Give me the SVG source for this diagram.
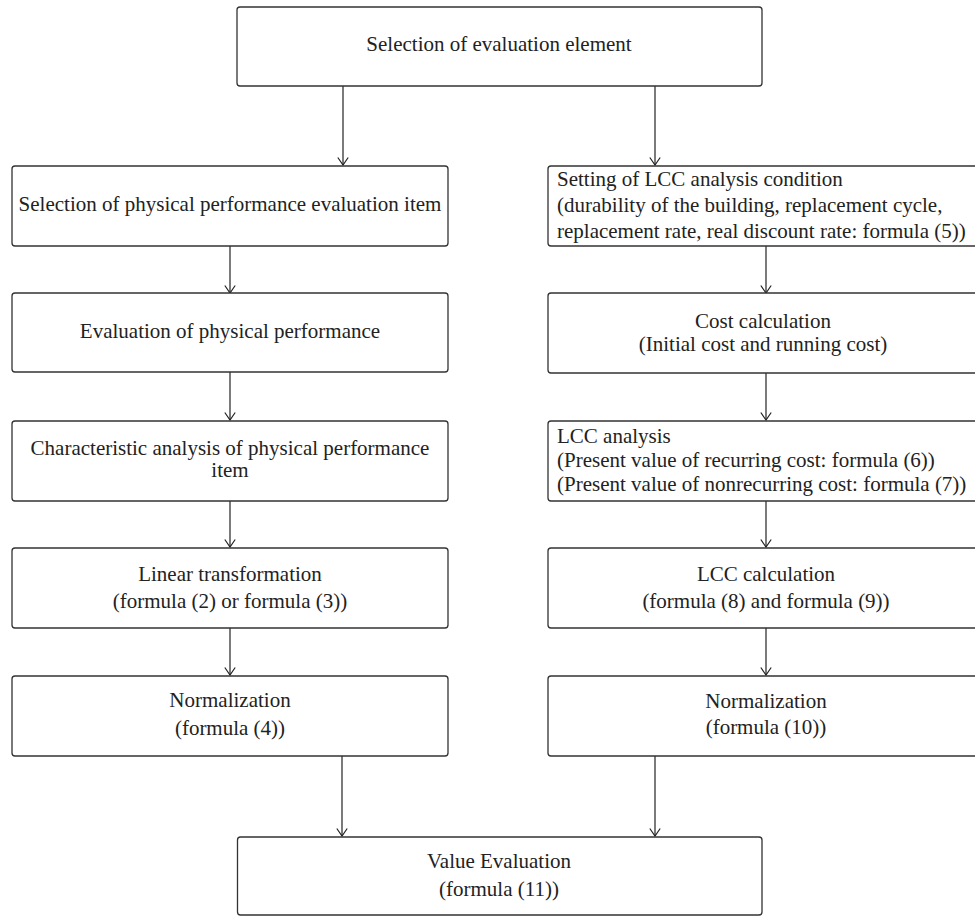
<svg xmlns="http://www.w3.org/2000/svg" width="975" height="917" viewBox="0 0 975 917">
<defs>
<marker id="ah" markerWidth="9" markerHeight="12" refX="8" refY="6" orient="auto" markerUnits="userSpaceOnUse" viewBox="0 0 9 12">
<path d="M0.5,0.8 L8,6 L0.5,11.2" fill="none" stroke="#222" stroke-width="1.2"/>
</marker>
<style>
.box{fill:#fff;stroke:#333;stroke-width:1.3}
.t{font-family:"Liberation Serif","Times New Roman",serif;font-size:21px;fill:#222}
.c{text-anchor:middle}
.ln{stroke:#222;stroke-width:1.2;fill:none;marker-end:url(#ah)}
</style>
</defs>
<rect width="975" height="917" fill="#fff"/>
<g id="connectors">
<line class="ln" x1="343" y1="86" x2="343" y2="165"/>
<line class="ln" x1="655" y1="86" x2="655" y2="165"/>
<line class="ln" x1="230" y1="246" x2="230" y2="293"/>
<line class="ln" x1="230" y1="372" x2="230" y2="420"/>
<line class="ln" x1="230" y1="501" x2="230" y2="547"/>
<line class="ln" x1="230" y1="628" x2="230" y2="675"/>
<line class="ln" x1="766" y1="246" x2="766" y2="293"/>
<line class="ln" x1="766" y1="373" x2="766" y2="420"/>
<line class="ln" x1="766" y1="501" x2="766" y2="547"/>
<line class="ln" x1="766" y1="628" x2="766" y2="675"/>
<line class="ln" x1="342" y1="756" x2="342" y2="836"/>
<line class="ln" x1="655" y1="756" x2="655" y2="836"/>
</g>
<g id="n0"><rect class="box" x="237" y="7" width="525" height="79" rx="3"/>
<text class="t c" x="499" y="51">Selection of evaluation element</text></g>
<g id="l1"><rect class="box" x="12" y="166" width="436" height="80" rx="3"/>
<text class="t c" x="230" y="211">Selection of physical performance evaluation item</text></g>
<g id="l2"><rect class="box" x="12" y="293" width="436" height="79" rx="3"/>
<text class="t c" x="230" y="338">Evaluation of physical performance</text></g>
<g id="l3"><rect class="box" x="12" y="421" width="436" height="80" rx="3"/>
<text class="t c" x="230" y="455">Characteristic analysis of physical performance</text>
<text class="t c" x="230" y="477">item</text></g>
<g id="l4"><rect class="box" x="12" y="548" width="436" height="80" rx="3"/>
<text class="t c" x="230" y="581">Linear transformation</text>
<text class="t c" x="230" y="608">(formula (2) or formula (3))</text></g>
<g id="l5"><rect class="box" x="12" y="676" width="436" height="80" rx="3"/>
<text class="t c" x="230" y="707">Normalization</text>
<text class="t c" x="230" y="735">(formula (4))</text></g>
<g id="r1"><rect class="box" x="548" y="166" width="438" height="80" rx="3"/>
<text class="t" x="557" y="186">Setting of LCC analysis condition</text>
<text class="t" x="557" y="212">(durability of the building, replacement cycle,</text>
<text class="t" x="557" y="238">replacement rate, real discount rate: formula (5))</text></g>
<g id="r2"><rect class="box" x="548" y="293" width="438" height="80" rx="3"/>
<text class="t c" x="763" y="328">Cost calculation</text>
<text class="t c" x="763" y="351">(Initial cost and running cost)</text></g>
<g id="r3"><rect class="box" x="548" y="421" width="438" height="80" rx="3"/>
<text class="t" x="557" y="443">LCC analysis</text>
<text class="t" x="557" y="467">(Present value of recurring cost: formula (6))</text>
<text class="t" x="557" y="491">(Present value of nonrecurring cost: formula (7))</text></g>
<g id="r4"><rect class="box" x="548" y="548" width="438" height="80" rx="3"/>
<text class="t c" x="766" y="581">LCC calculation</text>
<text class="t c" x="766" y="608">(formula (8) and formula (9))</text></g>
<g id="r5"><rect class="box" x="548" y="676" width="438" height="80" rx="3"/>
<text class="t c" x="766" y="708">Normalization</text>
<text class="t c" x="766" y="734">(formula (10))</text></g>
<g id="n11"><rect class="box" x="237.5" y="837" width="524.5" height="78" rx="3"/>
<text class="t c" x="499" y="868">Value Evaluation</text>
<text class="t c" x="499" y="896">(formula (11))</text></g>
</svg>
